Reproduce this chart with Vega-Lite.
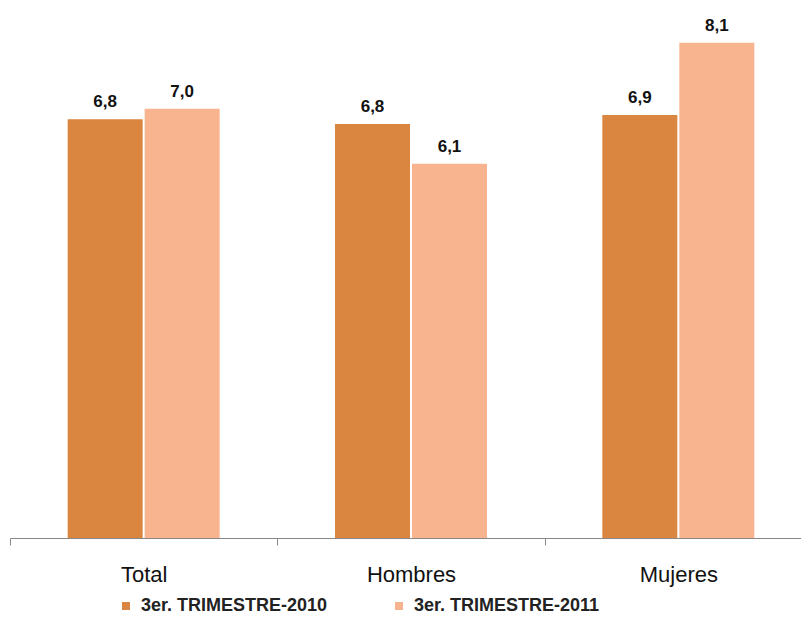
{
  "$schema": "https://vega.github.io/schema/vega-lite/v6.json",
  "autosize": "none",
  "width": 802,
  "height": 538,
  "padding": {"left": 10, "top": 0, "right": 0, "bottom": 81},
  "background": "white",
  "config": {
    "view": {"stroke": null},
    "locale": {"number": {"decimal": ",", "thousands": ".", "grouping": [3], "currency": ["", ""]}}
  },
  "data": {
    "values": [
      {"grupo": "Total", "serie": "3er. TRIMESTRE-2010", "valor": 6.85},
      {"grupo": "Total", "serie": "3er. TRIMESTRE-2011", "valor": 7.02},
      {"grupo": "Hombres", "serie": "3er. TRIMESTRE-2010", "valor": 6.77},
      {"grupo": "Hombres", "serie": "3er. TRIMESTRE-2011", "valor": 6.12},
      {"grupo": "Mujeres", "serie": "3er. TRIMESTRE-2010", "valor": 6.92},
      {"grupo": "Mujeres", "serie": "3er. TRIMESTRE-2011", "valor": 8.1}
    ]
  },
  "encoding": {
    "x": {
      "field": "grupo", "type": "nominal", "sort": ["Total", "Hombres", "Mujeres"],
      "scale": {"paddingInner": 0, "paddingOuter": 0},
      "axis": {
        "title": null, "labelAngle": 0, "labelFont": "Liberation Sans", "labelFontSize": 22,
        "labelColor": "#111", "domainColor": "#888", "tickColor": "#888", "tickSize": 7,
        "tickBand": "extent", "labelPadding": 19
      }
    },
    "xOffset": {"field": "serie", "type": "nominal", "scale": {"paddingInner": 0.026, "paddingOuter": 0.749}},
    "y": {
      "field": "valor", "type": "quantitative",
      "scale": {"domain": [0, 8.8], "nice": false},
      "axis": null
    }
  },
  "layer": [
    {
      "mark": {"type": "bar"},
      "encoding": {
        "color": {
          "field": "serie", "type": "nominal",
          "scale": {"domain": ["3er. TRIMESTRE-2010", "3er. TRIMESTRE-2011"], "range": ["#DA8640", "#F8B48E"]},
          "legend": {
            "title": null, "orient": "none", "direction": "horizontal",
            "legendX": 107, "legendY": 597,
            "symbolType": "square", "symbolSize": 64, "symbolStrokeWidth": 0,
            "labelFont": "Liberation Sans", "labelFontSize": 18, "labelFontWeight": "bold",
            "labelColor": "#222", "labelLimit": 300, "labelOffset": 6, "columnPadding": 62
          }
        }
      }
    },
    {
      "mark": {"type": "text", "baseline": "alphabetic", "dy": -12, "font": "Liberation Sans", "fontSize": 17, "fontWeight": "bold", "color": "#111"},
      "encoding": {
        "text": {"field": "valor", "type": "quantitative", "format": ".1f"}
      }
    }
  ]
}
